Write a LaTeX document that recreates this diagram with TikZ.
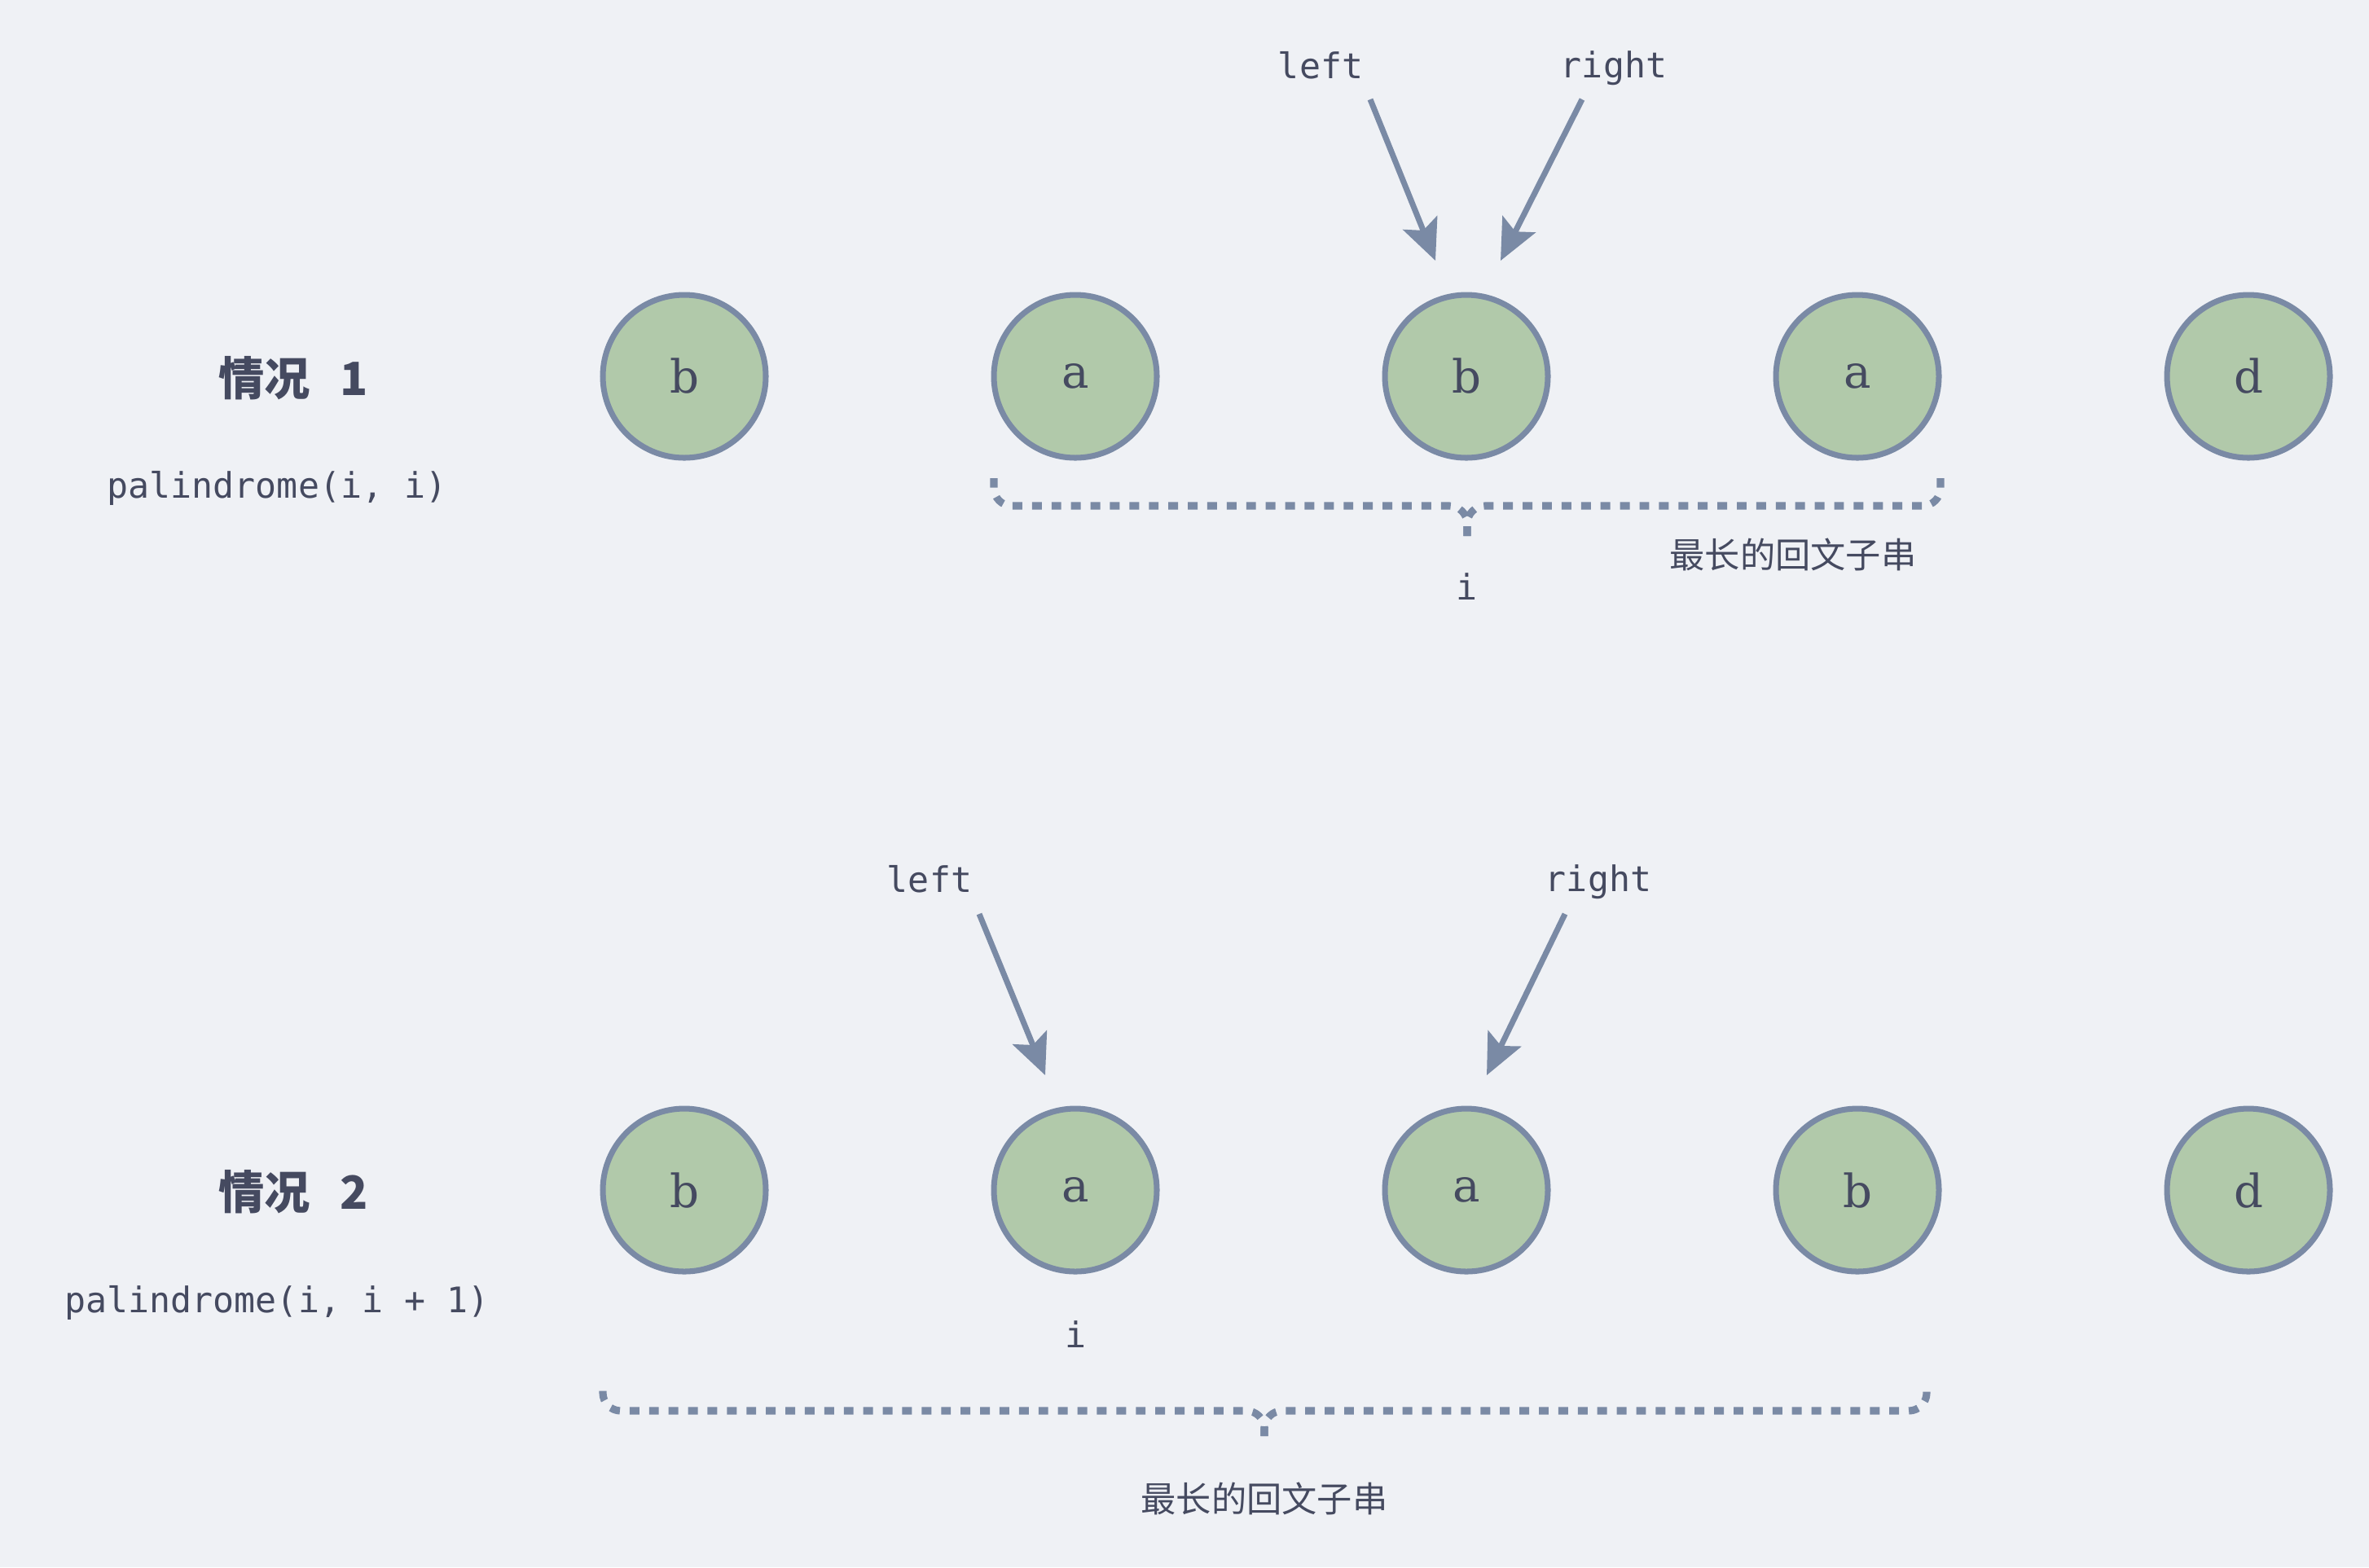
\documentclass[tikz,border=0pt]{standalone}
\usepackage{fontspec}
\setmainfont{DejaVu Serif}
\setmonofont{DejaVu Sans Mono}
\newfontfamily\cjk{Noto Sans CJK SC}
\usetikzlibrary{positioning,arrows.meta}
\definecolor{bgc}{HTML}{EFF1F5}
\definecolor{cellfill}{HTML}{B1C9AA}
\definecolor{edge}{HTML}{7A8AA5}
\definecolor{ink}{HTML}{454A60}

\begin{document}
\begin{tikzpicture}[
    node distance=4.8cm,
    cell/.style={circle, draw=edge, fill=cellfill, line width=2pt, minimum size=2.0cm, inner sep=0pt, text=ink, font=\fontsize{16}{18}\selectfont},
    mono/.style={text=ink, font=\ttfamily\fontsize{12.3}{14}\selectfont},
    cnote/.style={text=ink, font=\cjk\fontsize{12.3}{14}\selectfont},
    case/.style={text=ink, font=\cjk\bfseries\fontsize{16}{18}\selectfont},
    ptr/.style={-{Stealth[length=0.5cm, width=0.45cm, inset=0.1cm]}, draw=edge, line width=2pt},
    bracket/.style={draw=edge, line width=2.6pt, dash pattern=on 3.4pt off 3.4pt, rounded corners=0.22cm}
]

\fill[bgc] (0,0) rectangle (29.08,-19.24);
\useasboundingbox (0,0) rectangle (29.08,-19.24);

% case 1
\node[case] (case1) at (3.60,-4.64) {情况\hspace{0.66em}1};
\node[mono] (call1) at (3.40,-5.99) {palindrome(i, i)};

\node[cell] (a1) at (8.40,-4.62) {b};
\node[cell] (a2) [right of=a1] {a};
\node[cell] (a3) [right of=a2] {b};
\node[cell] (a4) [right of=a3] {a};
\node[cell] (a5) [right of=a4] {d};

\node[mono] (lft1) at (16.21,-0.80) {left};
\node[mono] (rgt1) at (19.81,-0.84) {right};
\coordinate (lft1from) at (16.82,-1.22);
\coordinate (lft1to) at (17.62,-3.20);
\coordinate (rgt1from) at (19.42,-1.22);
\coordinate (rgt1to) at (18.42,-3.20);
\draw[ptr] (lft1from) -- (lft1to);
\draw[ptr] (rgt1from) -- (rgt1to);

\coordinate (br1l) at (12.20,-5.87);
\coordinate (br1m) at (18.01,-6.21);
\coordinate (br1tip) at (18.01,-6.58);
\coordinate (br1r) at (23.82,-5.87);
\draw[bracket] (br1tip) -- (br1m) -| (br1l);
\draw[bracket] (br1tip) -- (br1m) -| (br1r);
\node[mono, below of=a3, node distance=2.58cm] (idx1) {i};
\node[cnote] (long1) at (22.01,-6.81) {最长的回文子串};

% case 2
\node[case] (case2) at (3.60,-14.63) {情况\hspace{0.66em}2};
\node[mono] (call2) at (3.40,-15.99) {palindrome(i, i + 1)};

\node[cell] (b1) at (8.40,-14.61) {b};
\node[cell] (b2) [right of=b1] {a};
\node[cell] (b3) [right of=b2] {a};
\node[cell] (b4) [right of=b3] {b};
\node[cell] (b5) [right of=b4] {d};

\node[mono] (lft2) at (11.41,-10.79) {left};
\node[mono] (rgt2) at (19.62,-10.83) {right};
\coordinate (lft2from) at (12.02,-11.22);
\coordinate (lft2to) at (12.83,-13.20);
\coordinate (rgt2from) at (19.21,-11.22);
\coordinate (rgt2to) at (18.25,-13.20);
\draw[ptr] (lft2from) -- (lft2to);
\draw[ptr] (rgt2from) -- (rgt2to);

\node[mono, below of=b2, node distance=1.77cm] (idx2) {i};
\coordinate (br2l) at (7.40,-16.97);
\coordinate (br2m) at (15.52,-17.32);
\coordinate (br2tip) at (15.52,-17.63);
\coordinate (br2r) at (23.65,-16.97);
\draw[bracket] (br2tip) -- (br2m) -| (br2l);
\draw[bracket] (br2tip) -- (br2m) -| (br2r);
\node[cnote] (long2) at (15.52,-18.40) {最长的回文子串};

\end{tikzpicture}
\end{document}
